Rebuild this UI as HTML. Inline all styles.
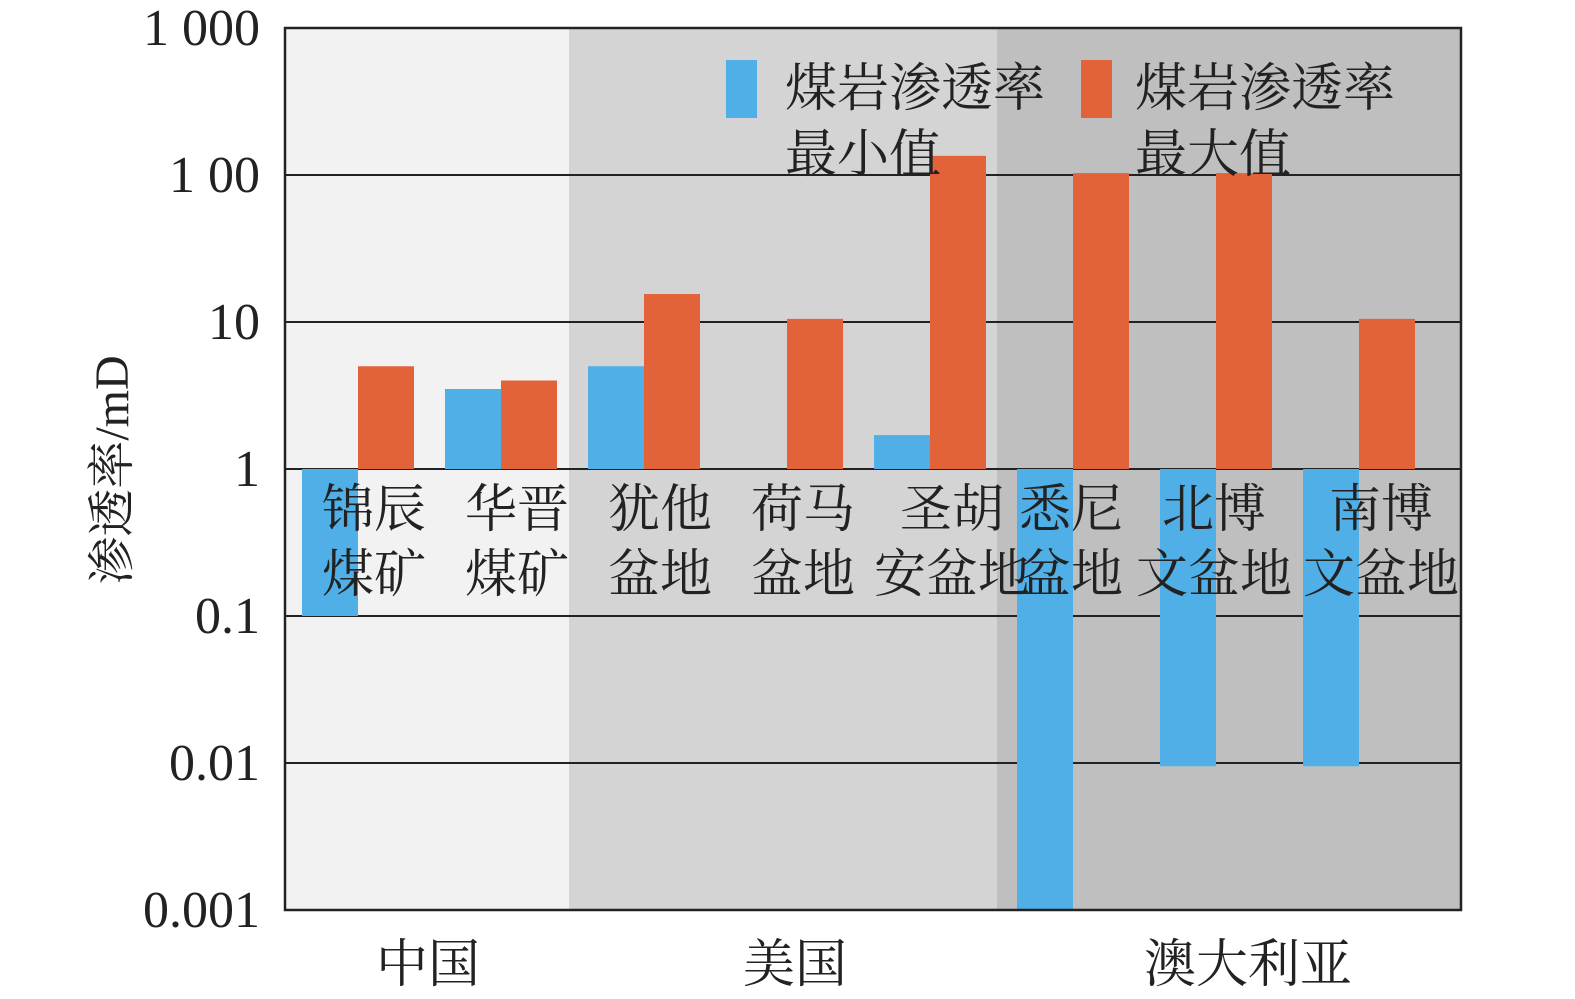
<!DOCTYPE html>
<html><head><meta charset="utf-8"><style>
body{margin:0;background:#fff;}
svg text{font-family:"Liberation Serif","Noto Serif CJK SC",serif;fill:#222;}
</style></head><body>
<svg id="chart" width="1575" height="994" xmlns="http://www.w3.org/2000/svg">
<rect x="285" y="28" width="284" height="882" fill="#f2f2f2"/>
<rect x="569" y="28" width="428" height="882" fill="#d4d4d4"/>
<rect x="997" y="28" width="464" height="882" fill="#bfbfbf"/>
<g id="grid"></g><g id="bars"></g><g id="labels"></g>
<rect x="285" y="28" width="1176" height="882" fill="none" stroke="#222" stroke-width="2.5"/>
<rect x="726" y="60" width="31" height="58" fill="#4fafe6"/>
<text x="785" y="106" font-size="52">煤岩渗透率</text>
<text x="785" y="172" font-size="52">最小值</text>
<rect x="1081" y="60" width="31" height="58" fill="#e2633a"/>
<text x="1135" y="106" font-size="52">煤岩渗透率</text>
<text x="1135" y="172" font-size="52">最大值</text>
<text transform="translate(128,470) rotate(-90)" text-anchor="middle" font-size="48">渗透率/mD</text>
<text x="428" y="982" text-anchor="middle" font-size="52">中国</text>
<text x="795" y="982" text-anchor="middle" font-size="52">美国</text>
<text x="1248" y="982" text-anchor="middle" font-size="52">澳大利亚</text>
</svg>
<script>
const categories=["锦辰煤矿","华晋煤矿","犹他盆地","荷马盆地","圣胡安盆地","悉尼盆地","北博文盆地","南博文盆地"];
const labelLine1=["锦辰","华晋","犹他","荷马","圣胡","悉尼","北博","南博"];
const labelLine2=["煤矿","煤矿","盆地","盆地","安盆地","盆地","文盆地","文盆地"];
const minValues=[0.1,3.5,5,null,1.7,0.001,0.0095,0.0095];
const maxValues=[5,4,15.5,10.5,135,103,103,10.5];
const tickValues=[0.001,0.01,0.1,1,10,100,1000];
const tickLabels=["0.001","0.01","0.1","1","10","1 00","1 000"];
const NS="http://www.w3.org/2000/svg";
const yTop=28,yBot=910,lmin=-3,lmax=3;
function y(v){return yBot-(Math.log10(v)-lmin)/(lmax-lmin)*(yBot-yTop);}
function x(i){return 302+i*143;}
const bw=56;
const labelShift=[16,16,16,16,22,-2,-2,22];
function mk(t,a,p){const e=document.createElementNS(NS,t);for(const k in a)e.setAttribute(k,a[k]);p.appendChild(e);return e;}
const grid=document.getElementById('grid'),bars=document.getElementById('bars'),labels=document.getElementById('labels');
tickValues.forEach((v,i)=>{
  if(i>0&&i<tickValues.length-1){const l=mk('line',{x1:285,x2:1461,y1:y(v),y2:y(v),stroke:'#222','stroke-width':2},grid);
  
  }
  const t=mk('text',{x:260,y:y(v)+17,'text-anchor':'end','font-size':52},grid);t.textContent=tickLabels[i];
  
  
});
const base=y(1);
categories.forEach((c,i)=>{
  if(minValues[i]!=null){const v=y(minValues[i]);const r=mk('rect',{x:x(i),y:Math.min(v,base),width:bw,height:Math.abs(v-base),fill:'#4fafe6'},bars);
  
  }
  const v2=y(maxValues[i]);const r2=mk('rect',{x:x(i)+bw,y:Math.min(v2,base),width:bw,height:Math.abs(v2-base),fill:'#e2633a'},bars);
  
  
  const cx=x(i)+bw+labelShift[i];
  const t1=mk('text',{x:cx,y:527,'text-anchor':'middle','font-size':52},labels);t1.textContent=labelLine1[i];
  
  
  const t2=mk('text',{x:cx,y:592,'text-anchor':'middle','font-size':52},labels);t2.textContent=labelLine2[i];
  
  
});
</script>
</body></html>
